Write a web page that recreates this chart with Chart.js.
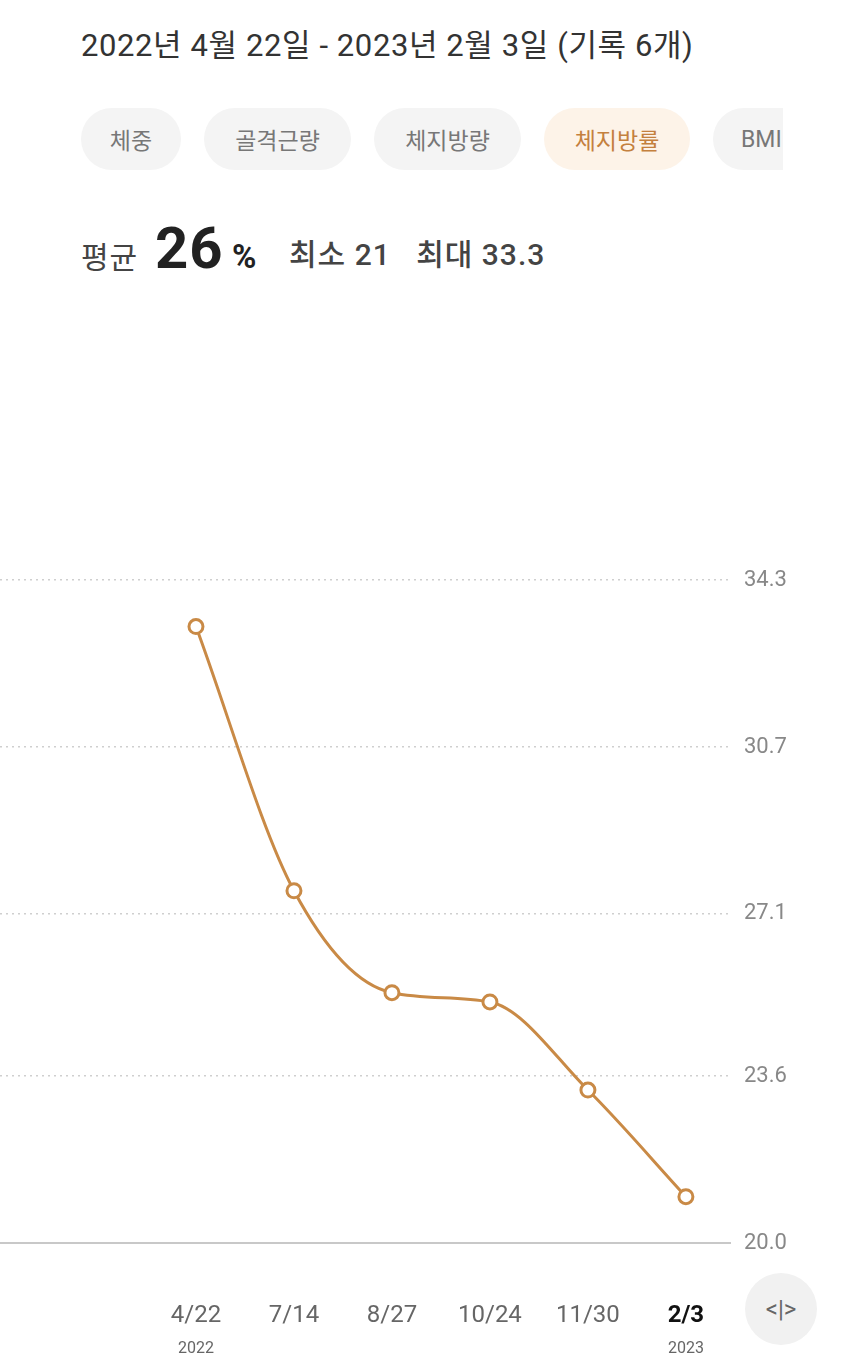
<!DOCTYPE html>
<html><head><meta charset="utf-8">
<script src="https://cdn.jsdelivr.net/npm/chart.js@4"></script>
<style>
body{margin:0;width:864px;height:1366px;background:#fff;font-family:Roboto,"Noto Sans CJK KR",sans-serif;position:relative;overflow:hidden}
#title{position:absolute;left:81px;top:20px;font-size:31px;letter-spacing:0.6px;color:#333;white-space:nowrap}
.tab{position:absolute;top:108px;height:62px;border-radius:31px;background:#f4f4f4;color:#777;font-size:23px;display:flex;align-items:center;justify-content:center}
#clip{position:absolute;left:0;top:100px;width:783px;height:80px;overflow:hidden}
#stats{position:absolute;left:81px;top:214px;white-space:nowrap;color:#444;font-size:30px;letter-spacing:1px}
#stats span{position:absolute;top:0}
#stats b.big{font-size:58px;color:#222;font-weight:700}
#btn{position:absolute;left:745px;top:1273px;width:72px;height:72px;border-radius:36px;background:#f1f1f1;color:#666;font-size:24px;display:flex;align-items:center;justify-content:center}
canvas{position:absolute;left:-10px;top:553px}
</style></head><body>
<div id="title">2022년 4월 22일 - 2023년 2월 3일 (기록 6개)</div>
<div id="clip">
<div class="tab" style="left:81px;width:100px;top:8px">체중</div>
<div class="tab" style="left:204px;width:147px;top:8px">골격근량</div>
<div class="tab" style="left:374px;width:147px;top:8px">체지방량</div>
<div class="tab" style="left:544px;width:146px;top:8px;background:#fdf3e8;color:#c4803e">체지방률</div>
<div class="tab" style="left:713px;width:120px;top:8px;justify-content:flex-start;padding-left:28px;box-sizing:border-box">BMI</div>
</div>
<div id="stats">평균 &nbsp;<b class="big">26</b> <b style="font-size:33px;color:#222">%</b><span style="left:208px;top:16px;font-weight:500">최소 21&nbsp;&nbsp;&nbsp;최대 33.3</span></div>
<div id="btn">&lt;|&gt;</div>
<canvas id="c" width="874" height="813" style="width:874px;height:813px"></canvas>
<script>
const dates=["4/22","7/14","8/27","10/24","11/30","2/3"];
const years=["2022","","","","","2023"];
const values=[33.3,27.6,25.4,25.2,23.3,21.0];
const yTicks=[20.0,23.6,27.1,30.7,34.3];
const labelPlugin={id:'lbl',afterDraw(ch){
 const c=ch.ctx,x=ch.scales.x;c.save();c.textAlign='center';
 dates.forEach((d,i)=>{const px=x.getPixelForValue(i);
  const last=i===dates.length-1;
  c.font=(last?'bold ':'')+'24px Roboto';c.fillStyle=last?'#111':'#666';c.fillText(d,px,1322-553);
  if(years[i]){c.font='16px Roboto';c.fillStyle='#666';c.fillText(years[i],px,1353-553);}
 });c.restore();}};
new Chart(document.getElementById('c'),{type:'line',
 data:{datasets:[{data:values.map((v,i)=>({x:i,y:v})),borderColor:'#c98a46',borderWidth:3,cubicInterpolationMode:'monotone',
  pointRadius:7,pointBackgroundColor:'#fff',pointBorderColor:'#c98a46',pointBorderWidth:3}]},
 options:{responsive:false,animation:false,events:[],layout:{padding:{top:12,bottom:0,left:0,right:0}},
  plugins:{legend:{display:false},tooltip:{enabled:false}},
  scales:{
   x:{type:'linear',min:-2,max:5.45,grid:{display:false},ticks:{display:false},border:{display:true,color:'#c8c8c8',width:2},
      afterFit(s){s.height=123;}},
   y:{position:'right',min:20,max:34.3,afterBuildTicks(s){s.ticks=yTicks.map(v=>({value:v}));},
      ticks:{color:'#888',font:{size:22,family:'Roboto'},padding:14,callback:v=>v.toFixed(1)},
      grid:{color:'#cfcfcf',lineWidth:1.5,drawTicks:false},border:{display:false,dash:[2,4]},
      afterFit(s){s.width=134;}}
  }},plugins:[labelPlugin]});
</script></body></html>
